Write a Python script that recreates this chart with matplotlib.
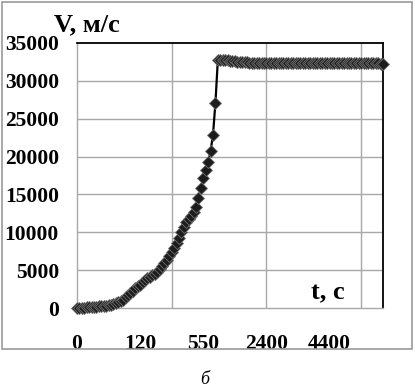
import matplotlib
matplotlib.use("Agg")
import matplotlib.pyplot as plt
from matplotlib.patches import Rectangle
import numpy as np

# ---- data ----
v_rise = [0, 20, 40, 60, 80, 100, 120, 150, 180, 200,
          230, 260, 300, 350, 420, 500, 600, 750, 900, 1100,
          1400, 1700, 2000, 2300, 2600, 2850, 3100, 3400, 3650, 3900,
          4100, 4300, 4500, 4800, 5100, 5500, 5900, 6400, 6900, 7400,
          7900, 8600, 9300, 10000, 10700, 11300, 11800, 12200, 12700, 13300,
          14500, 15900, 17200, 18200, 19300, 20700, 22900, 27100]
v_flat = [32800, 32800, 32750, 32700, 32700, 32650, 32600, 32600, 32550, 32500,
          32500, 32450, 32450, 32400, 32400, 32400, 32350, 32350, 32350, 32300,
          32300, 32300, 32300, 32300, 32300, 32300, 32300, 32300, 32300, 32300,
          32300, 32300, 32300, 32300, 32300, 32300, 32300, 32300, 32300, 32300,
          32300, 32300, 32300, 32300, 32300, 32300, 32300, 32300, 32300, 32300,
          32300, 32300, 32300, 32300, 32300, 32300, 32300, 32300, 32300, 32300,
          32300, 32300, 32300, 32300, 32300, 32300, 32300, 32250, 32200]
velocity = v_rise + v_flat
x_tick_labels = ['0', '120', '550', '2400', '4400']
y_ticks = [0, 5000, 10000, 15000, 20000, 25000, 30000, 35000]

# ---- layout ----
W, H = 415, 388
fig = plt.figure(figsize=(W / 100, H / 100), dpi=100)
ax = fig.add_axes([77 / W, 1 - 308 / H, (383 - 77) / W, (308 - 43) / H])

serif = ['Liberation Serif', 'DejaVu Serif']
x = np.arange(len(velocity))
ax.plot(x, velocity, color='black', lw=1.6, marker='D', markersize=6.6,
        markerfacecolor='#1c1c1c', markeredgecolor='#707070', markeredgewidth=0.6,
        zorder=3, clip_on=False)

ax.set_xlim(0, len(velocity) - 1)
ax.set_ylim(0, 35000)

label_step = 26
grid_step = 39
ax.set_xticks(np.arange(len(x_tick_labels)) * label_step)
ax.set_xticklabels(x_tick_labels)
ax.set_yticks(y_ticks)
ax.set_yticklabels([str(t) for t in y_ticks])
for t in ax.get_xticklabels() + ax.get_yticklabels():
    t.set_fontfamily(serif)
    t.set_fontweight('bold')
    t.set_fontsize(15.5)
ax.tick_params(axis='both', length=0)
ax.tick_params(axis='x', pad=19)
ax.tick_params(axis='y', pad=13)

gc = '#a8a8a8'
for yv in y_ticks[1:-1]:
    ax.axhline(yv, color=gc, lw=1.0, zorder=1)
for xv in range(grid_step, len(velocity), grid_step):
    ax.axvline(xv, color=gc, lw=1.0, zorder=1)

ax.spines['left'].set_color(gc)
ax.spines['bottom'].set_color(gc)
ax.spines['left'].set_linewidth(1.0)
ax.spines['bottom'].set_linewidth(1.0)
ax.spines['top'].set_color('black')
ax.spines['right'].set_color('black')
ax.spines['top'].set_linewidth(1.3)
ax.spines['right'].set_linewidth(1.3)

fig.text(87 / W, 1 - 25 / H, 'V, м/с', family=serif, fontweight='bold',
         fontsize=19, ha='center', va='center')
fig.text(328 / W, 1 - 293 / H, 't, с', family=serif, fontweight='bold',
         fontsize=19, ha='center', va='center')
fig.text(205 / W, 1 - 379 / H, 'б', family=serif, style='italic',
         fontsize=13, ha='center', va='center')

fig.patches.append(Rectangle((1.5 / W, 1 - 349 / H), (412 - 1.5) / W, (349 - 1.5) / H,
                             transform=fig.transFigure, fill=False,
                             edgecolor='#9a9a9a', lw=1.2, zorder=0))

fig.savefig('out.png', dpi=100)
